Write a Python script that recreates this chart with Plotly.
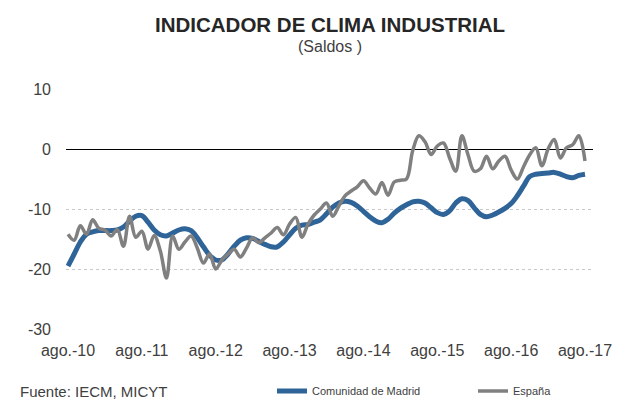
import plotly.graph_objects as go

# Monthly values, ago.-10 .. ago.-17 (85 months)
madrid = [-19.5, -17.5, -15.5, -14.2, -13.8, -13.6, -13.6, -13.6, -13.5, -13.0,
          -12.0, -11.2, -11.1, -12.2, -13.5, -14.3, -14.5, -14.0, -13.5, -13.3,
          -13.6, -14.8, -16.3, -17.7, -18.5, -18.5, -17.5, -16.2, -15.2, -14.8,
          -14.9, -15.4, -15.9, -16.3, -16.3, -15.5, -14.3, -13.2, -12.7, -12.6,
          -12.2, -11.8, -10.8, -9.7, -9.0, -8.7, -8.9, -9.5, -10.4, -11.3,
          -12.0, -12.3, -11.7, -10.7, -9.9, -9.3, -8.8, -8.7, -9.0, -9.8,
          -10.6, -10.9, -10.3, -9.0, -8.3, -8.6, -9.8, -10.9, -11.3, -11.0,
          -10.5, -9.9, -9.1, -7.8, -6.2, -4.6, -4.2, -4.1, -4.0, -3.9,
          -4.2, -4.6, -4.8, -4.4, -4.2]

espana = [-14.2, -15.2, -12.8, -14.2, -11.8, -13.2, -13.5, -14.5, -13.4, -16.2,
          -11.2, -14.7, -13.7, -16.7, -14.4, -17.0, -21.5, -14.5, -16.7, -15.5,
          -14.5, -16.5, -19.0, -17.5, -20.0, -18.5, -17.5, -16.7, -18.0, -16.5,
          -14.8, -15.6, -14.8, -14.0, -13.1, -14.3, -12.5, -11.4, -14.7, -12.5,
          -11.0, -10.0, -9.0, -11.2, -9.5, -7.8, -7.0, -6.3, -5.3, -6.5,
          -7.5, -5.6, -7.7, -5.5, -5.2, -5.0, -0.3, 2.2, 1.2, -0.9,
          0.5, 1.0, -1.5, -3.7, 2.2, -1.0, -3.7, -3.3, -1.2, -3.3,
          -2.0, -1.2, -3.5, -5.0, -3.0, -1.0, 0.2, -2.8, 0.0, 1.6,
          -1.5, 0.2, 0.7, 2.2, -2.0]

tick_labels = ["ago.-10", "ago.-11", "ago.-12", "ago.-13",
               "ago.-14", "ago.-15", "ago.-16", "ago.-17"]
y_ticks = [10, 0, -10, -20, -30]
y_tick_labels = ["10", "0", "-10", "-20", "-30"]

months = list(range(len(madrid)))
tick_pos = [12 * k for k in range(len(tick_labels))]

FONT = "Liberation Sans, Arial, sans-serif"
TXT = "#404040"

fig = go.Figure()
fig.add_trace(go.Scatter(
    x=months, y=madrid, mode="lines", name="Comunidad de Madrid",
    line=dict(color="#2F6499", width=5, shape="spline", smoothing=1.0),
    legend="legend"))
fig.add_trace(go.Scatter(
    x=months, y=espana, mode="lines", name="España",
    line=dict(color="#808080", width=3.5, shape="spline", smoothing=1.0),
    legend="legend2"))

fig.update_layout(
    width=619, height=405,
    margin=dict(l=66, r=26, t=89, b=76, autoexpand=False),
    paper_bgcolor="white", plot_bgcolor="white",
    font=dict(family=FONT, color=TXT, size=14),
    showlegend=True,
    title=dict(
        text="<b>INDICADOR DE CLIMA INDUSTRIAL</b>",
        font=dict(family=FONT, size=20.5, color="#262626"),
        x=330 / 619, xanchor="center", xref="container",
        y=1 - 25 / 405, yanchor="middle", yref="container"),
    legend=dict(orientation="h", xref="container", yref="container",
                x=272 / 619, xanchor="left", y=(405 - 391) / 405, yanchor="middle",
                font=dict(size=11, color=TXT), bgcolor="rgba(0,0,0,0)",
                itemwidth=30),
    legend2=dict(orientation="h", xref="container", yref="container",
                 x=473 / 619, xanchor="left", y=(405 - 391) / 405, yanchor="middle",
                 font=dict(size=11, color=TXT), bgcolor="rgba(0,0,0,0)",
                 itemwidth=30),
    annotations=[
        dict(text="(Saldos )", xref="paper", yref="paper",
             x=(330 - 66) / 527, y=(329 - 47) / 240, xanchor="center", yanchor="middle",
             showarrow=False, font=dict(size=16, color=TXT)),
        dict(text="Fuente: IECM, MICYT", xref="paper", yref="paper",
             x=(18 - 66) / 527, y=(329 - 391) / 240, xanchor="left", yanchor="middle",
             showarrow=False, font=dict(size=15, color=TXT)),
    ],
)

fig.update_xaxes(
    range=[-0.33, 85.3], tickvals=tick_pos, ticktext=tick_labels,
    showgrid=False, zeroline=False, showline=False, ticks="", automargin=False,
    tickfont=dict(size=16, color=TXT), ticklabelstandoff=10)
fig.update_yaxes(
    range=[-30, 10], tickvals=y_ticks, ticktext=y_tick_labels,
    showgrid=True, gridcolor="#C8C8C8", griddash="dot", gridwidth=1,
    zeroline=True, zerolinecolor="#000000", zerolinewidth=1.3, automargin=False,
    showline=False, ticks="", tickfont=dict(size=16, color=TXT),
    ticklabelstandoff=14)

fig.write_html("out.html", config={"displayModeBar": False},
               post_script="document.body.style.margin='0';document.body.style.overflow='hidden';")
